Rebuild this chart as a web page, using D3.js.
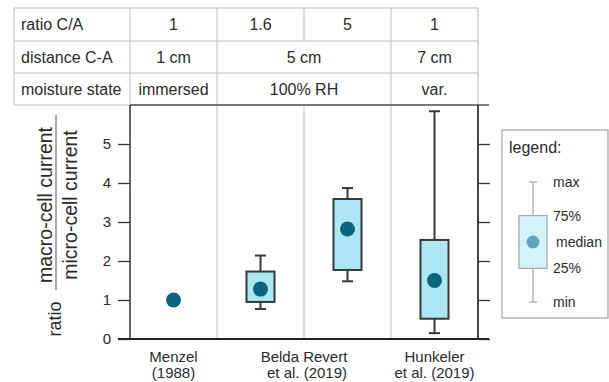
<!DOCTYPE html>
<html><head><meta charset="utf-8">
<script src="https://cdn.jsdelivr.net/npm/d3@7"></script>
<style>
body{margin:0;background:#fff;}
text{font-family:"Liberation Sans",Arial,sans-serif;fill:#2a2a2a;}
</style></head>
<body><svg id="c" width="609" height="382"></svg>
<script>
// ---- data ----
const series = ["Menzel", "Belda16", "Belda5", "Hunkeler"];
const minV = [null, 0.77, 1.48, 0.15];
const q1V = [null, 0.95, 1.77, 0.52];
const medV = [1.0, 1.28, 2.82, 1.5];
const q3V = [null, 1.73, 3.59, 2.54];
const maxV = [null, 2.14, 3.87, 5.84];
const yTicks = [0, 1, 2, 3, 4, 5];
const rowLabels = ["ratio C/A", "distance C-A", "moisture state"];
const ratioRow = [["1", 0, 0], ["1.6", 1, 1], ["5", 2, 2], ["1", 3, 3]];
const distRow = [["1 cm", 0, 0], ["5 cm", 1, 2], ["7 cm", 3, 3]];
const moistRow = [["immersed", 0, 0], ["100% RH", 1, 2], ["var.", 3, 3]];
const xLabels = [[["Menzel", "(1988)"], 0, 0], [["Belda Revert", "et al. (2019)"], 1, 2], [["Hunkeler", "et al. (2019)"], 3, 3]];
const legendLabels = ["max", "75%", "median", "25%", "min"];
const legendVals = [6.0, 4.6, 3.5, 2.4, 1.0]; // positions in legend's own scale

const svg = d3.select("#c");
const plotL = 130, plotR = 478, plotT = 105, plotB = 339;
const tableL = 14, rowY = [8, 41, 73, 105];

const x = d3.scaleBand().domain(series).range([plotL, plotR]);
const y = d3.scaleLinear().domain([0, 6]).range([plotB, plotT]);
const gridC = "#bdbdbd";

// ---- table ----
const T = svg.append("g");
rowY.forEach((yy, i) => {
  T.append("line").attr("x1", tableL).attr("x2", plotR).attr("y1", yy).attr("y2", yy).attr("stroke", gridC);
});
T.append("line").attr("x1", tableL).attr("x2", tableL).attr("y1", rowY[0]).attr("y2", rowY[3]).attr("stroke", gridC);
const rows = [ratioRow, distRow, moistRow];
rows.forEach((row, ri) => {
  const y0 = rowY[ri], y1 = rowY[ri + 1];
  T.append("text").attr("x", tableL + 7).attr("y", (y0 + y1) / 2 + 5.5).attr("font-size", 16).text(rowLabels[ri]);
  T.append("line").attr("x1", plotL).attr("x2", plotL).attr("y1", y0).attr("y2", y1).attr("stroke", gridC);
  row.forEach(([t, a, b]) => {
    const xa = x(series[a]), xb = x(series[b]) + x.bandwidth();
    T.append("line").attr("x1", xb).attr("x2", xb).attr("y1", y0).attr("y2", y1).attr("stroke", gridC);
    T.append("text").attr("x", (xa + xb) / 2).attr("y", (y0 + y1) / 2 + 5.5).attr("text-anchor", "middle").attr("font-size", 16).text(t);
  });
});

// ---- plot dividers ----
series.slice(1).forEach(s => {
  svg.append("line").attr("x1", x(s)).attr("x2", x(s)).attr("y1", plotT).attr("y2", plotB).attr("stroke", gridC);
});

// top line
svg.append("line").attr("x1", plotL).attr("x2", plotR + 11).attr("y1", plotT).attr("y2", plotT).attr("stroke", "#555").attr("stroke-width", 1.5);

// left axis
const la = svg.append("g").attr("transform", `translate(${plotL},0)`)
  .call(d3.axisLeft(y).tickValues(yTicks).tickSize(12).tickPadding(7).tickFormat(d3.format("d")));
la.select(".domain").remove();
la.selectAll(".tick line").attr("stroke", "#333").attr("stroke-width", 1.3);
la.selectAll(".tick text").attr("font-size", 15).attr("fill", "#2a2a2a").attr("font-family", "Liberation Sans, Arial, sans-serif");
svg.append("line").attr("x1", plotL).attr("x2", plotL).attr("y1", plotT).attr("y2", plotB).attr("stroke", "#333").attr("stroke-width", 1.5);

// right axis
const ra = svg.append("g").attr("transform", `translate(${plotR},0)`)
  .call(d3.axisRight(y).tickValues(yTicks).tickSize(12).tickFormat(""));
ra.select(".domain").remove();
ra.selectAll(".tick line").attr("stroke", "#333").attr("stroke-width", 1.3);
svg.append("line").attr("x1", plotR).attr("x2", plotR).attr("y1", plotT).attr("y2", plotB).attr("stroke", "#444").attr("stroke-width", 2);

// bottom line
svg.append("line").attr("x1", plotL - 12).attr("x2", plotR + 11).attr("y1", plotB).attr("y2", plotB).attr("stroke", "#222").attr("stroke-width", 2);

// ---- boxes ----
const boxW = 28, capW = 11;
const stroke = "#383838";
series.forEach((s, i) => {
  const cx = x(s) + x.bandwidth() / 2;
  const g = svg.append("g");
  if (minV[i] != null) {
    g.append("line").attr("x1", cx).attr("x2", cx).attr("y1", y(maxV[i])).attr("y2", y(q3V[i])).attr("stroke", stroke).attr("stroke-width", 2);
    g.append("line").attr("x1", cx).attr("x2", cx).attr("y1", y(q1V[i])).attr("y2", y(minV[i])).attr("stroke", stroke).attr("stroke-width", 2);
    [maxV[i], minV[i]].forEach(v => g.append("line").attr("x1", cx - capW / 2).attr("x2", cx + capW / 2).attr("y1", y(v)).attr("y2", y(v)).attr("stroke", stroke).attr("stroke-width", 2));
    g.append("rect").attr("x", cx - boxW / 2).attr("width", boxW).attr("y", y(q3V[i])).attr("height", y(q1V[i]) - y(q3V[i]))
      .attr("fill", "#ace7f6").attr("stroke", stroke).attr("stroke-width", 2);
  }
  g.append("circle").attr("cx", cx).attr("cy", y(medV[i])).attr("r", 7.5).attr("fill", "#0b6480");
});

// ---- x labels ----
xLabels.forEach(([lines, a, b]) => {
  const xa = x(series[a]), xb = x(series[b]) + x.bandwidth();
  lines.forEach((ln, k) => svg.append("text").attr("text-anchor", "middle").attr("font-size", 15)
    .attr("x", (xa + xb) / 2 + (k === 1 && a !== b ? 3 : 0)).attr("y", 362 + k * 16).text(ln));
});

// ---- y axis label ----
svg.append("text").attr("transform", "translate(61,319) rotate(-90)").attr("text-anchor", "middle").attr("font-size", 18).text("ratio");
svg.append("text").attr("transform", "translate(52,205) rotate(-90)").attr("text-anchor", "middle").attr("font-size", 19.5).text("macro-cell current");
svg.append("line").attr("x1", 56).attr("x2", 56).attr("y1", 115).attr("y2", 290).attr("stroke", "#555").attr("stroke-width", 1);
svg.append("text").attr("transform", "translate(77,205) rotate(-90)").attr("text-anchor", "middle").attr("font-size", 19.5).text("micro-cell current");

// ---- legend ----
const L = svg.append("g");
L.append("rect").attr("x", 502).attr("y", 130).attr("width", 106).attr("height", 188).attr("fill", "#fff").attr("stroke", "#aaa").attr("stroke-width", 1.3);
L.append("text").attr("x", 509).attr("y", 153).attr("font-size", 16).text("legend:");
const ly = d3.scaleLinear().domain([1, 6]).range([302, 182]);
const lcx = 533;
L.append("line").attr("x1", lcx).attr("x2", lcx).attr("y1", ly(legendVals[0])).attr("y2", ly(legendVals[4])).attr("stroke", "#aaa").attr("stroke-width", 1.3);
[legendVals[0], legendVals[4]].forEach(v => L.append("line").attr("x1", lcx - 4).attr("x2", lcx + 4).attr("y1", ly(v)).attr("y2", ly(v)).attr("stroke", "#aaa").attr("stroke-width", 1.3));
L.append("rect").attr("x", lcx - 14).attr("width", 28).attr("y", ly(legendVals[1])).attr("height", ly(legendVals[3]) - ly(legendVals[1]))
  .attr("fill", "#d3f3fb").attr("stroke", "#aaa").attr("stroke-width", 1.3);
L.append("circle").attr("cx", lcx).attr("cy", ly(legendVals[2])).attr("r", 6.5).attr("fill", "#5ea6bb");
legendLabels.forEach((t, k) => {
  L.append("text").attr("x", k === 2 ? 556 : 553).attr("y", ly(legendVals[k]) + 5).attr("font-size", 14).text(t);
});
</script></body></html>
